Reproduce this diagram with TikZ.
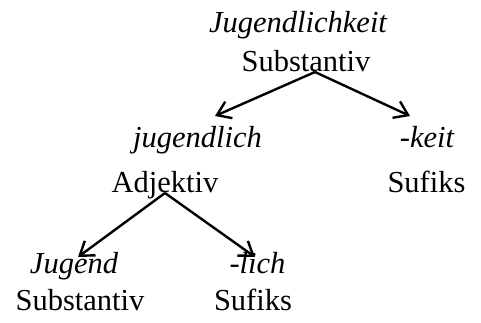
\documentclass[tikz,border=0pt]{standalone}
\usepackage{fontspec}
\setmainfont{Liberation Serif}
\usetikzlibrary{arrows.meta}
\begin{document}
\begin{tikzpicture}[x=1pt,y=1pt,
  word/.style={anchor=base,inner sep=0pt,font=\fontsize{30.5}{36}\selectfont\itshape},
  cat/.style={anchor=base,inner sep=0pt,font=\fontsize{30.5}{36}\selectfont},
  link/.style={line width=2.4pt,-{Straight Barb[length=13pt,width=18pt]}}]
\useasboundingbox (0,0) rectangle (481,322);
\node[word] (n1) at (298,289) {Jugendlichkeit};
\node[cat]  (n2) at (306,251) {Substantiv};
\node[word] (n3) at (197.5,175) {jugendlich};
\node[word] (n4) at (427,175) {-keit};
\node[cat]  (n5) at (165,130) {Adjektiv};
\node[cat]  (n6) at (426.5,130) {Sufiks};
\node[word] (n7) at (74,49) {Jugend};
\node[word] (n8) at (257.5,49) {-lich};
\node[cat]  (n9) at (80,12) {Substantiv};
\node[cat]  (n10) at (253,12) {Sufiks};
\coordinate (s1) at (315,250);
\coordinate (a1) at (215,206);
\coordinate (b1) at (410,206);
\coordinate (s2) at (165,129);
\coordinate (a2) at (78,65);
\coordinate (b2) at (255,65);
\draw[link] (s1) -- (a1);
\draw[link] (s1) -- (b1);
\draw[link] (s2) -- (a2);
\draw[link] (s2) -- (b2);
\end{tikzpicture}
\end{document}
